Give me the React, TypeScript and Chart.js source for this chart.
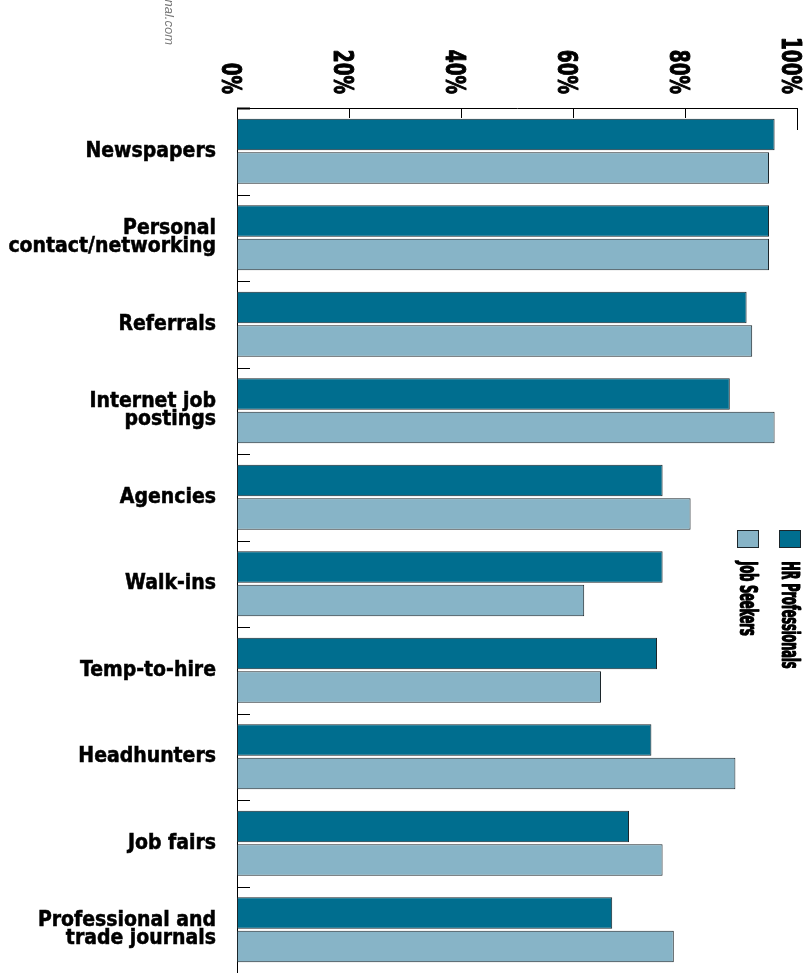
import React, { useEffect, useRef } from 'react';
import { Chart, registerables } from 'chart.js';

Chart.register(...registerables);

const categories: (string | string[])[] = [
  'Newspapers',
  ['Personal', 'contact/networking'],
  'Referrals',
  ['Internet job', 'postings'],
  'Agencies',
  'Walk-ins',
  'Temp-to-hire',
  'Headhunters',
  'Job fairs',
  ['Professional and', 'trade journals'],
];
const seriesNames = ['HR Professionals', 'Job Seekers'];
const hrProfessionals = [96, 95, 91, 88, 76, 76, 75, 74, 70, 67];
const jobSeekers = [95, 95, 92, 96, 81, 62, 65, 89, 76, 78];
const xTickValues = [0, 20, 40, 60, 80, 100];
const xTickLabels = ['0%', '20%', '40%', '60%', '80%', '100%'];
const sourceText = 'Source: CareerJournal.com';

const HR_COLOR = '#006e8f';
const JS_COLOR = '#87b4c7';
const BORDER = '#1c262b';
const FONT = "'DejaVu Sans Condensed', 'DejaVu Sans', sans-serif";

const heavyText = (
  ctx: CanvasRenderingContext2D,
  text: string,
  steps: number[],
  strokeW: number
) => {
  steps.forEach((dx) => ctx.fillText(text, dx, 0));
  if (strokeW > 0) {
    ctx.lineWidth = strokeW;
    ctx.strokeStyle = '#000';
    ctx.lineJoin = 'round';
    steps.forEach((dx) => ctx.strokeText(text, dx, 0));
  }
};

const decorPlugin = {
  id: 'decor',
  afterDraw(chart: any) {
    const ctx: CanvasRenderingContext2D = chart.ctx;
    const xs = chart.scales.x;
    const ys = chart.scales.y;
    const { top, left, right } = chart.chartArea;
    const line = (x1: number, y1: number, x2: number, y2: number) => {
      ctx.beginPath();
      ctx.moveTo(x1, y1);
      ctx.lineTo(x2, y2);
      ctx.stroke();
    };
    ctx.save();
    ctx.strokeStyle = '#000';
    ctx.lineWidth = 1;

    // value-axis ticks and rotated labels
    xTickValues.forEach((v, i) => {
      const px = Math.round(xs.getPixelForValue(v)) + 0.5;
      if (v > 0) {
        ctx.strokeStyle = '#000';
        ctx.lineWidth = 1;
        const len = i === xTickValues.length - 1 ? 22 : 10;
        line(px, top, px, top + len);
      }
      ctx.save();
      ctx.translate(px - 16, top - 14);
      ctx.rotate(Math.PI / 2);
      ctx.scale(0.79, 1);
      ctx.font = `bold 26px ${FONT}`;
      ctx.textAlign = 'right';
      ctx.textBaseline = 'alphabetic';
      ctx.fillStyle = '#000';
      heavyText(ctx, xTickLabels[i], [0], 1);
      ctx.restore();
    });

    // category boundary ticks
    ctx.strokeStyle = '#000';
    for (let i = 0; i <= categories.length; i++) {
      const py = Math.round(ys.getPixelForValue(i - 0.5)) + 0.5;
      ctx.lineWidth = i === 0 ? 2 : 1;
      line(left, py, left + 13, py);
    }
    ctx.lineWidth = 1;

    // legend (rotated)
    const datasets = chart.data.datasets;
    datasets.forEach((ds: any, i: number) => {
      const bx = right + 4 - 22 - i * 42;
      const by = 530;
      ctx.fillStyle = ds.backgroundColor;
      ctx.fillRect(bx, by, 22, 18);
      ctx.strokeStyle = BORDER;
      ctx.lineWidth = 1;
      ctx.strokeRect(bx + 0.5, by + 0.5, 21, 17);
      ctx.save();
      ctx.translate(bx + 3, by + 31);
      ctx.rotate(Math.PI / 2);
      ctx.scale(0.5, 1);
      ctx.font = `bold 25px ${FONT}`;
      ctx.textAlign = 'left';
      ctx.textBaseline = 'alphabetic';
      ctx.fillStyle = '#000';
      heavyText(ctx, ds.label, [0, 1.2], 0.6);
      ctx.restore();
    });

    // source note
    ctx.save();
    ctx.translate(165, 45);
    ctx.rotate(Math.PI / 2);
    ctx.font = "italic 13px 'Liberation Sans', Arial, sans-serif";
    ctx.textAlign = 'right';
    ctx.textBaseline = 'alphabetic';
    ctx.fillStyle = '#777';
    ctx.fillText(sourceText, 0, 0);
    ctx.restore();

    ctx.restore();
  },
};

export default function App() {
  const canvasRef = useRef<HTMLCanvasElement | null>(null);

  useEffect(() => {
    if (!canvasRef.current) return;
    const chart = new Chart(canvasRef.current, {
      type: 'bar',
      data: {
        labels: categories as any,
        datasets: [
          {
            label: seriesNames[0],
            data: hrProfessionals,
            backgroundColor: HR_COLOR,
            borderColor: BORDER,
            borderWidth: 1,
            borderSkipped: false,
            categoryPercentage: 0.775,
            barPercentage: 0.94,
          },
          {
            label: seriesNames[1],
            data: jobSeekers,
            backgroundColor: JS_COLOR,
            borderColor: BORDER,
            borderWidth: 1,
            borderSkipped: false,
            categoryPercentage: 0.775,
            barPercentage: 0.94,
          },
        ],
      },
      options: {
        indexAxis: 'y',
        responsive: false,
        animation: false,
        devicePixelRatio: 1,
        layout: { padding: { left: 0, right: 10, top: 0, bottom: 0 } },
        plugins: {
          legend: { display: false },
          tooltip: { enabled: false },
        },
        scales: {
          x: {
            position: 'top',
            min: 0,
            max: 100,
            ticks: { display: false, stepSize: 20 },
            grid: { display: false, drawTicks: false },
            border: { display: true, color: '#000', width: 1 },
            afterFit: (s: any) => {
              s.height = 108;
              s.paddingLeft = 0;
              s.paddingRight = 0;
            },
          },
          y: {
            ticks: {
              autoSkip: false,
              padding: 21,
              color: '#000',
              textStrokeColor: '#000',
              textStrokeWidth: 0.5,
              font: { family: FONT, size: 21, weight: 'bold', lineHeight: 0.86 },
            },
            grid: { display: false, drawTicks: false },
            border: { display: true, color: '#000', width: 1 },
            afterFit: (s: any) => {
              s.width = 237;
              s.paddingTop = 0;
              s.paddingBottom = 0;
            },
          },
        },
      },
      plugins: [decorPlugin],
    } as any);
    return () => chart.destroy();
  }, []);

  return (
    <div style={{ position: 'absolute', left: 0, top: 0, width: 807, height: 973 }}>
      <canvas ref={canvasRef} width={807} height={973} style={{ display: 'block' }} />
    </div>
  );
}
